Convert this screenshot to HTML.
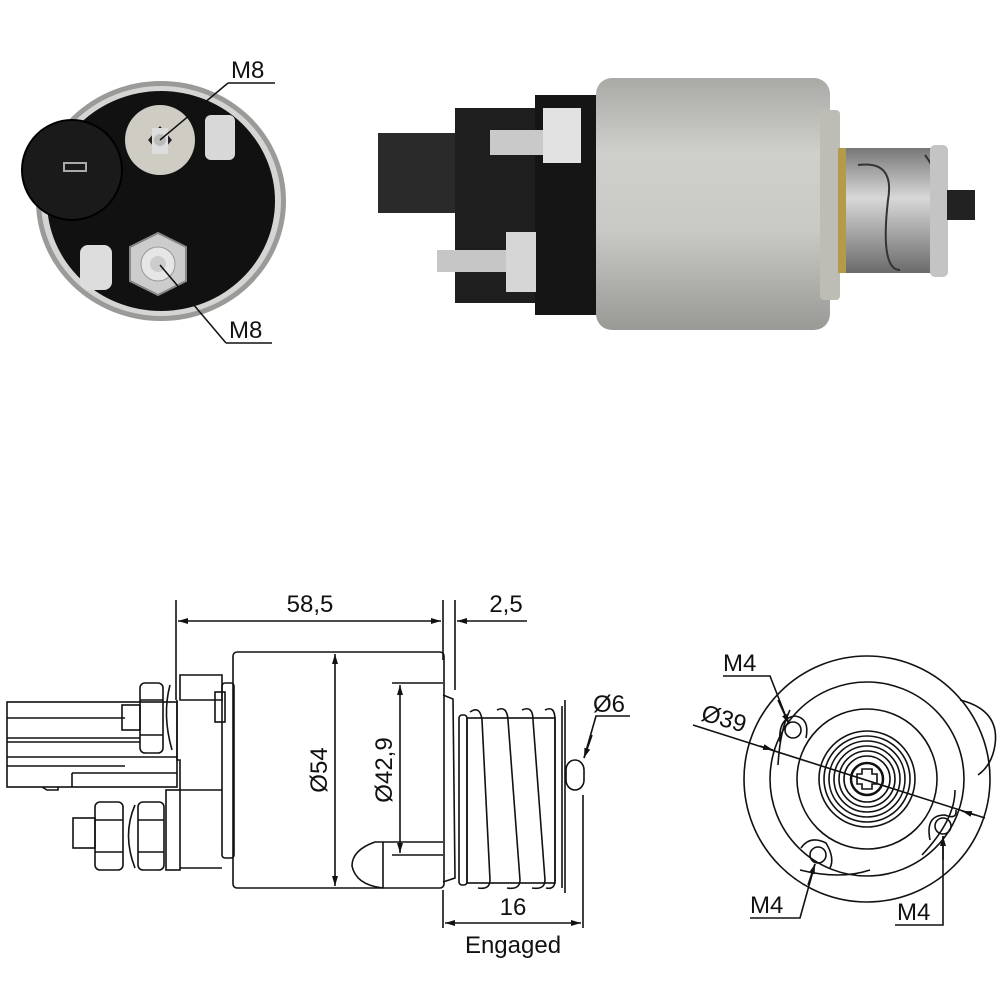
<!DOCTYPE html>
<html><head><meta charset="utf-8"><style>
html,body{margin:0;padding:0;background:#fff;}
svg{display:block;}
text{font-family:"Liberation Sans",sans-serif;fill:#111;}
</style></head><body>
<svg width="1000" height="1000" viewBox="0 0 1000 1000" xmlns="http://www.w3.org/2000/svg">
<defs>
<linearGradient id="cyl" x1="0" y1="0" x2="0" y2="1">
<stop offset="0" stop-color="#a9a9a5"/><stop offset="0.3" stop-color="#cfcfcb"/><stop offset="0.6" stop-color="#c9c9c5"/><stop offset="1" stop-color="#999995"/></linearGradient>
<linearGradient id="plg" x1="0" y1="0" x2="0" y2="1">
<stop offset="0" stop-color="#777"/><stop offset="0.4" stop-color="#d8d8d8"/><stop offset="1" stop-color="#6a6a6a"/></linearGradient>
<marker id="ar" viewBox="0 0 10 6" refX="10" refY="3" markerWidth="10" markerHeight="6" orient="auto-start-reverse" markerUnits="userSpaceOnUse"><path d="M0,0 L10,3 L0,6z" fill="#111"/></marker>
</defs>

<!-- ===== Top-left end photo ===== -->
<ellipse cx="161" cy="201" rx="125" ry="120" fill="#9a9a98"/>
<ellipse cx="161" cy="201" rx="120" ry="115" fill="#d5d5d3"/>
<ellipse cx="161" cy="201" rx="114" ry="110" fill="#111"/>
<circle cx="72" cy="170" r="50" fill="#1a1a1a" stroke="#000" stroke-width="2"/>
<rect x="64" y="163" width="22" height="8" fill="none" stroke="#aaa" stroke-width="2"/>
<circle cx="160" cy="140" r="35" fill="#cfccc4"/>
<rect x="205" y="115" width="30" height="45" rx="6" fill="#d8d8d8"/>
<path d="M148,140 L160,126 L172,140 L160,154z" fill="#222"/>
<rect x="152" y="128" width="16" height="26" fill="#ddd"/>
<circle cx="160" cy="140" r="6" fill="#bbb"/>
<polygon points="158,233 186,247 186,281 158,295 130,281 130,247" fill="#ccc" stroke="#888" stroke-width="2"/>
<circle cx="158" cy="264" r="17" fill="#e6e6e6" stroke="#999"/>
<circle cx="158" cy="264" r="8" fill="#ccc"/>
<rect x="80" y="245" width="32" height="45" rx="8" fill="#ddd"/>
<text x="231" y="78" font-size="24">M8</text>
<line x1="228" y1="83" x2="275" y2="83" stroke="#111" stroke-width="1.5"/>
<line x1="228" y1="83" x2="160" y2="140" stroke="#111" stroke-width="1.5"/>
<text x="229" y="338" font-size="24">M8</text>
<line x1="226" y1="343" x2="272" y2="343" stroke="#111" stroke-width="1.5"/>
<line x1="226" y1="343" x2="160" y2="265" stroke="#111" stroke-width="1.5"/>

<!-- ===== Top-right side photo ===== -->
<rect x="378" y="133" width="90" height="80" fill="#2a2a2a"/>
<rect x="455" y="108" width="140" height="195" fill="#1e1e1e"/>
<rect x="535" y="95" width="65" height="220" fill="#151515"/>
<rect x="490" y="130" width="55" height="25" fill="#c9c9c9"/>
<rect x="543" y="108" width="38" height="55" fill="#e2e2e2"/>
<rect x="437" y="250" width="75" height="22" fill="#c6c6c6"/>
<rect x="506" y="232" width="30" height="60" fill="#d6d6d6"/>
<rect x="596" y="78" width="234" height="252" rx="16" fill="url(#cyl)"/>
<rect x="820" y="110" width="20" height="190" rx="4" fill="#bdbdb5"/>
<rect x="838" y="148" width="98" height="125" fill="url(#plg)"/>
<rect x="838" y="148" width="8" height="125" fill="#b59a4a"/>
<path d="M858,165 Q895,160 888,200 Q880,270 900,270" stroke="#333" stroke-width="2" fill="none"/>
<path d="M925,155 Q945,180 935,230 Q930,265 945,270" stroke="#333" stroke-width="2" fill="none"/>
<rect x="930" y="145" width="18" height="132" rx="5" fill="#c4c4c4"/>
<rect x="947" y="190" width="28" height="30" fill="#222"/>

<!-- ===== Bottom side drawing ===== -->
<g stroke="#111" stroke-width="1.6" fill="none">
<line x1="176" y1="600" x2="176" y2="700"/>
<line x1="443" y1="600" x2="443" y2="660"/>
<line x1="455" y1="600" x2="455" y2="690"/>
<line x1="178" y1="621" x2="441" y2="621" marker-start="url(#ar)" marker-end="url(#ar)"/>
<line x1="527" y1="621" x2="457" y2="621" marker-end="url(#ar)"/>
<rect x="7" y="702" width="170" height="85"/>
<line x1="7" y1="718" x2="125" y2="718"/>
<line x1="7" y1="738" x2="140" y2="738"/>
<line x1="7" y1="742" x2="140" y2="742"/>
<line x1="7" y1="757" x2="177" y2="757"/>
<line x1="7" y1="766" x2="125" y2="766"/>
<path d="M72,773 L177,773 M72,773 L72,787"/>
<path d="M42,787 L47,790 L58,790 L58,787"/>
<rect x="122" y="705" width="18" height="25"/>
<rect x="140" y="683" width="23" height="70" rx="5"/>
<line x1="140" y1="700" x2="163" y2="700"/><line x1="140" y1="735" x2="163" y2="735"/>
<path d="M170,685 Q162,715 172,750"/>
<path d="M180,675 L222,675 L222,700 L180,700 Z"/>
<path d="M177,700 L177,760 L180,760 L180,790 L222,790"/>
<rect x="215" y="692" width="10" height="30"/>
<rect x="166" y="790" width="14" height="80"/>
<line x1="180" y1="868" x2="222" y2="868"/>
<rect x="73" y="818" width="22" height="30"/>
<rect x="95" y="802" width="28" height="68" rx="5"/>
<rect x="138" y="802" width="26" height="68" rx="5"/>
<line x1="95" y1="820" x2="123" y2="820"/><line x1="95" y1="852" x2="123" y2="852"/>
<line x1="138" y1="820" x2="164" y2="820"/><line x1="138" y1="852" x2="164" y2="852"/>
<path d="M135,805 Q122,835 135,868"/>
<rect x="222" y="683" width="12" height="175" rx="3"/>
<rect x="233" y="652" width="211" height="236" rx="4"/>
<path d="M443,695 L453,699 L455,878 L443,882"/>
<path d="M443,842 L375,842 Q352,850 352,866 Q356,885 383,888"/>
<line x1="383" y1="842" x2="383" y2="888"/>
<line x1="335" y1="654" x2="335" y2="886" marker-start="url(#ar)" marker-end="url(#ar)"/>
<line x1="392" y1="683" x2="443" y2="683"/>
<line x1="392" y1="855" x2="443" y2="855"/>
<line x1="400" y1="685" x2="400" y2="853" marker-start="url(#ar)" marker-end="url(#ar)"/>
<rect x="459" y="715" width="8" height="170" rx="3"/>
<rect x="467" y="718" width="88" height="165"/>
<path d="M470,712 Q480,705 482,720 L490,880 Q490,890 478,888"/>
<path d="M497,710 Q507,705 508,720 L520,880 Q520,890 507,888"/>
<path d="M522,710 Q533,705 533,720 L545,880 Q545,890 532,888"/>
<path d="M545,710 Q555,705 555,720 L555,880 Q555,890 546,888"/>
<line x1="565" y1="700" x2="565" y2="893"/>
<line x1="562" y1="706" x2="562" y2="888"/>
<rect x="566" y="760" width="18" height="30" rx="10"/>
<path d="M630,716 L596,716 L584,758"/>
<line x1="592" y1="735" x2="584" y2="758" marker-end="url(#ar)"/>
<line x1="443" y1="890" x2="443" y2="928"/>
<line x1="583" y1="795" x2="583" y2="928"/>
<line x1="445" y1="923" x2="581" y2="923" marker-start="url(#ar)" marker-end="url(#ar)"/>
</g>
<text x="310" y="612" font-size="24" text-anchor="middle">58,5</text>
<text x="506" y="612" font-size="24" text-anchor="middle">2,5</text>
<text x="0" y="0" font-size="24" text-anchor="middle" transform="translate(327,770) rotate(-90)">Ø54</text>
<text x="0" y="0" font-size="24" text-anchor="middle" transform="translate(392,770) rotate(-90)">Ø42,9</text>
<text x="593" y="712" font-size="24">Ø6</text>
<text x="513" y="915" font-size="24" text-anchor="middle">16</text>
<text x="513" y="953" font-size="24" text-anchor="middle">Engaged</text>

<!-- ===== End view drawing ===== -->
<g stroke="#111" stroke-width="1.6" fill="none">
<path d="M960,700 Q1000,710 995,745 Q992,765 978,775"/>
<circle cx="867" cy="779" r="123"/>
<circle cx="867" cy="779" r="97"/>
<circle cx="867" cy="779" r="70"/>
<circle cx="867" cy="779" r="48"/>
<circle cx="867" cy="779" r="43"/>
<circle cx="867" cy="779" r="38"/>
<circle cx="867" cy="779" r="33"/>
<circle cx="867" cy="779" r="28"/>
<circle cx="867" cy="779" r="23"/>
<circle cx="867" cy="779" r="16" stroke-width="2.5"/>
<path d="M862,769 h10 v5 h5 v10 h-5 v5 h-10 v-5 h-5 v-10 h5z"/>
<circle cx="793" cy="730" r="8"/>
<path d="M780,742 Q778,718 795,716 Q810,718 806,738"/>
<circle cx="818" cy="855" r="8"/>
<path d="M801,848 Q810,835 826,843 Q835,858 830,868"/>
<circle cx="943" cy="826" r="8"/>
<path d="M930,840 Q925,815 945,815 Q957,820 956,810"/>
<path d="M790,710 Q780,730 778,765"/>
<path d="M800,870 Q840,880 870,870"/>
<path d="M955,790 Q955,820 922,855"/>
<line x1="693" y1="725" x2="985" y2="818"/>
<line x1="760" y1="746" x2="773" y2="750" marker-end="url(#ar)"/>
<line x1="975" y1="815" x2="962" y2="811" marker-end="url(#ar)"/>
<path d="M723,676 L770,676 L788,722"/>
<line x1="778" y1="700" x2="789" y2="724" marker-end="url(#ar)"/>
<path d="M750,918 L800,918 L815,864"/>
<line x1="808" y1="885" x2="815" y2="864" marker-end="url(#ar)"/>
<path d="M895,925 L943,925 L943,836"/>
<line x1="943" y1="860" x2="943" y2="836" marker-end="url(#ar)"/>
</g>
<text x="723" y="671" font-size="24">M4</text>
<text x="0" y="0" font-size="24" transform="translate(700,720) rotate(16)">Ø39</text>
<text x="750" y="913" font-size="24">M4</text>
<text x="897" y="920" font-size="24">M4</text>
</svg>
</body></html>
